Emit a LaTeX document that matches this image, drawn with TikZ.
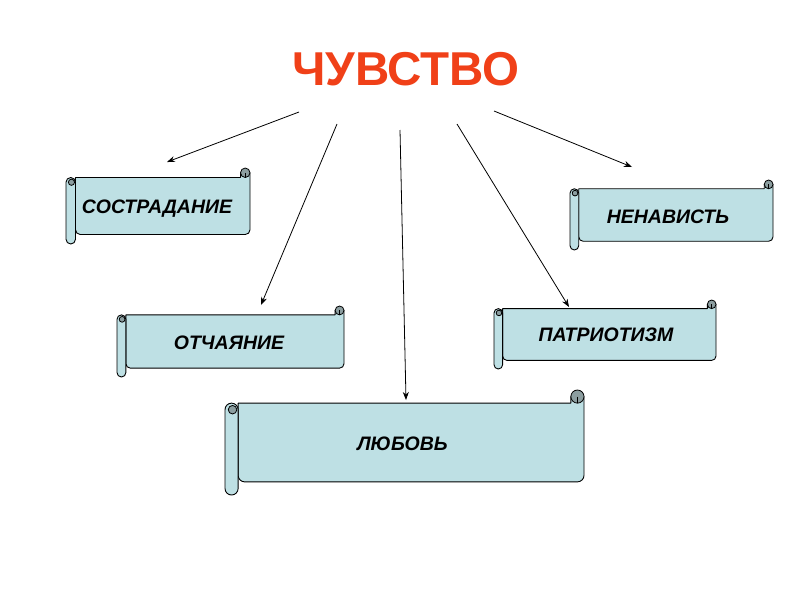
\documentclass[tikz,border=0pt]{standalone}
\usepackage{fontspec}
\setmainfont{Liberation Sans}
\usetikzlibrary{arrows.meta}
\definecolor{scrollfill}{RGB}{190,224,228}
\definecolor{curlfill}{RGB}{140,158,160}
\definecolor{titlered}{RGB}{240,64,24}
\tikzset{
  scrollbody/.style={fill=scrollfill, draw=black, line width=0.9pt, line join=round},
  curlpart/.style={fill=curlfill, draw=black, line width=0.8pt},
  scrolltext/.style={font=\fontsize{19.5}{22}\selectfont\bfseries\itshape, anchor=base, inner sep=0pt},
  titletext/.style={font=\fontsize{47.5}{52}\selectfont\bfseries, text=titlered, anchor=base, inner sep=0pt},
  arrowline/.style={draw=black, line width=0.8pt, -{Stealth[length=8pt,width=6pt]}},
}
\newcommand\scrollshape[4]{%
  \pgfmathsetmacro\scrH{(#4-#2)/8}%
  \pgfmathsetmacro\scrh{\scrH/2}%
  \path[scrollbody] (#1+\scrH,#2+\scrH) -- (#3-\scrH,#2+\scrH) -- (#3-\scrH,#2+\scrh) -- (#3,#2+\scrh)
     [rounded corners=\scrh pt] -- (#3,#4-\scrH) -- (#1+\scrH,#4-\scrH) [sharp corners] -- cycle;
  \path[scrollbody, rounded corners=\scrh pt] (#1,#2+\scrH) rectangle (#1+\scrH,#4);
  \path[curlpart] (#1+\scrh+0.15*\scrh,#2+\scrH+\scrh) circle[radius=0.65*\scrh];
  \path[curlpart] (#3-\scrh,#2+\scrh) circle[radius=\scrh];
  \draw[line width=0.6pt] (#3-\scrh,#2+\scrh) -- (#3-\scrh,#2+\scrH);
}
\begin{document}
\begin{tikzpicture}[x=1pt,y=-1pt]
  \useasboundingbox[fill=white] (0,0) rectangle (800,600);

  \node[titletext] (title) at (406,85) {ЧУВСТВО};

  % scrolls: left, top, right, bottom
  \scrollshape{66}{168}{250}{244}
  \scrollshape{570}{180}{773}{250}
  \scrollshape{117}{306}{344}{377}
  \scrollshape{494}{300}{716}{369}
  \scrollshape{225}{390}{584}{495}

  \node[scrolltext] (sostr) at (157,213) {СОСТРАДАНИЕ};
  \node[scrolltext] (nenav) at (668,223) {НЕНАВИСТЬ};
  \node[scrolltext] (otch) at (229,349) {ОТЧАЯНИЕ};
  \node[scrolltext] (patr) at (606,341.5) {ПАТРИОТИЗМ};
  \node[scrolltext] (lyub) at (402.5,450) {ЛЮБОВЬ};

  \coordinate (s1) at (299,112); \coordinate (e1) at (167,162);
  \coordinate (s2) at (337,124); \coordinate (e2) at (261,305);
  \coordinate (s3) at (400,130); \coordinate (e3) at (406,400);
  \coordinate (s4) at (457,124); \coordinate (e4) at (569,307);
  \coordinate (s5) at (494,111); \coordinate (e5) at (632,167);

  \draw[arrowline] (s1) -- (e1);
  \draw[arrowline] (s2) -- (e2);
  \draw[arrowline] (s3) -- (e3);
  \draw[arrowline] (s4) -- (e4);
  \draw[arrowline] (s5) -- (e5);
\end{tikzpicture}
\end{document}
